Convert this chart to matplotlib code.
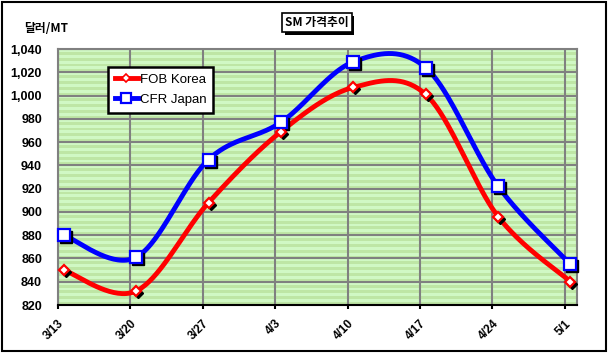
import numpy as np
import matplotlib
matplotlib.use("Agg")
import matplotlib.pyplot as plt
from matplotlib.lines import Line2D
from matplotlib.patches import Rectangle
import matplotlib.transforms as mtransforms

dates = ["3/13", "3/20", "3/27", "4/3", "4/10", "4/17", "4/24", "5/1"]
fob_korea = [850, 832, 908, 969, 1007, 1001, 896, 840]
cfr_japan = [880, 861, 945, 977, 1029, 1024, 922, 855]
yticks = [820, 840, 860, 880, 900, 920, 940, 960, 980, 1000, 1020, 1040]

FONT = ["Liberation Sans", "Noto Sans CJK KR", "DejaVu Sans"]
KFONT = ["Noto Sans CJK KR", "Liberation Sans", "DejaVu Sans"]
plt.rcParams["font.family"] = FONT

fig = plt.figure(figsize=(6.08, 3.56), dpi=100)
fig.patch.set_facecolor("white")
ax = fig.add_axes([58/608, 1-305/356, 519/608, 256/356])

# striped green background
n = 88
stripe = np.zeros((n, 1, 3))
c1 = np.array([208, 248, 196]) / 255
c2 = np.array([190, 230, 165]) / 255
for i in range(n):
    stripe[i, 0] = c1 if i % 2 == 0 else c2
ax.imshow(stripe, extent=[0, 1, 0, 1], transform=ax.transAxes, aspect="auto",
          interpolation="nearest", zorder=0)

ax.set_xlim(0, 7.17)
ax.set_ylim(820, 1040)
ax.set_yticks(yticks)
ax.set_yticklabels([f"{v:,}" for v in yticks], fontsize=9, fontweight="bold")
ax.set_xticks(range(len(dates)))
ax.set_xticklabels(dates, rotation=45, ha="right", va="top", fontsize=8.5,
                   fontweight="bold", rotation_mode="anchor")
shift = mtransforms.ScaledTranslation(8/100, 0, fig.dpi_scale_trans)
for lbl in ax.get_xticklabels():
    lbl.set_transform(lbl.get_transform() + shift)
ax.tick_params(axis="y", length=0, pad=11.5)
ax.tick_params(axis="x", length=3, width=1.5, color="black", pad=6)
ax.grid(True, color="#808080", linewidth=1.5, zorder=1)
ax.set_axisbelow(True)
for s in ["top", "right", "left"]:
    ax.spines[s].set_color("#808080")
    ax.spines[s].set_linewidth(1.5)
ax.spines["bottom"].set_color("black")
ax.spines["bottom"].set_linewidth(1.5)


def smooth(xs, ys, npts=40):
    P = np.column_stack([xs, ys]).astype(float)
    out = []
    m = len(P)
    for i in range(m - 1):
        p0 = P[i - 1] if i > 0 else P[i]
        p1 = P[i]
        p2 = P[i + 1]
        p3 = P[i + 2] if i + 2 < m else P[i + 1]
        b1 = p1 + (p2 - p0) / 6
        b2 = p2 - (p3 - p1) / 6
        t = np.linspace(0, 1, npts)[:, None]
        seg = ((1 - t) ** 3) * p1 + 3 * ((1 - t) ** 2) * t * b1 + 3 * (1 - t) * t ** 2 * b2 + t ** 3 * p2
        out.append(seg if i == 0 else seg[1:])
    S = np.vstack(out)
    return S[:, 0], S[:, 1]


off = 0.08
x = np.arange(len(dates)) + off
shadow = mtransforms.offset_copy(ax.transData, fig=fig, x=2, y=-2, units="dots")

for ys, col, mk, ms in [(fob_korea, "#FF0000", "D", 5.5), (cfr_japan, "#0000FF", "s", 8)]:
    sx, sy = smooth(x, ys)
    ax.plot(sx, sy, color=col, lw=3.5, zorder=3, solid_capstyle="round")
    ax.plot(x, ys, ls="none", marker=mk, ms=ms, mfc="black", mec="black",
            transform=shadow, zorder=4, clip_on=False)
    ax.plot(x, ys, ls="none", marker=mk, ms=ms, mfc="white", mec=col, mew=1.6,
            zorder=5, clip_on=False)

handles = [
    Line2D([], [], color="#FF0000", lw=3.5, marker="D", ms=4.5, mfc="white", mec="#FF0000", mew=1.2),
    Line2D([], [], color="#0000FF", lw=3.5, marker="s", ms=6.5, mfc="white", mec="#0000FF", mew=1.6),
]
leg = fig.legend(handles, ["FOB Korea", "CFR Japan"], loc="upper left",
                 bbox_to_anchor=(108/608, 1-67/356), borderaxespad=0,
                 fancybox=False, framealpha=1, edgecolor="black",
                 handlelength=1.8, handletextpad=0.1, fontsize=9.5,
                 borderpad=0.5, labelspacing=0.6)
leg.get_frame().set_linewidth(1.8)
leg.set_zorder(10)

# y unit label
fig.text(24/608, 1-28/356, "달러/MT", family=KFONT, fontsize=8.5, fontweight="bold",
         ha="left", va="center")

# title with shadow box
fig.patches.append(Rectangle((285/608, 1-35/356), 69/608, 19/356,
                             transform=fig.transFigure, fc="black", ec="none"))
fig.text(317/608, 1-22.5/356, "SM 가격추이", family=KFONT, fontsize=8.5,
         fontweight="bold", ha="center", va="center",
         bbox=dict(boxstyle="square,pad=0.25", fc="white", ec="black", lw=1.2))

# figure border
fig.patches.append(Rectangle((2/608, 5/356), 604/608, 349/356,
                             transform=fig.transFigure, fill=False, ec="black", lw=1.5))

fig.savefig("out.png", dpi=100)
